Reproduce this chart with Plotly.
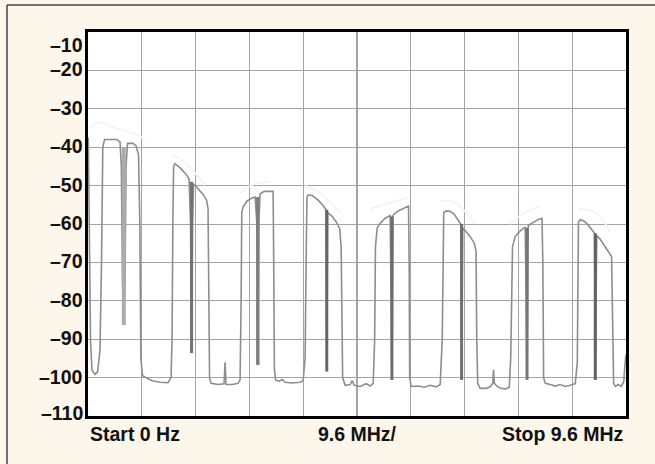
import plotly.graph_objects as go

# Spectrum analyser sweep, 0 to 9.6 MHz, level in dBm
freq_mhz = [
    0.005, 0.027, 0.045, 0.071, 0.125, 0.170, 0.214, 0.241, 0.264, 0.295,
    0.518, 0.571, 0.595, 0.616, 0.639, 0.661, 0.678, 0.705, 0.803, 0.857,
    0.902, 0.925, 0.943, 0.973, 1.053, 1.143, 1.286, 1.428, 1.482, 1.500,
    1.514, 1.527, 1.553, 1.660, 1.759, 1.803, 1.830, 1.848, 1.866, 1.884,
    1.964, 2.053, 2.116, 2.142, 2.157, 2.169, 2.196, 2.321, 2.428, 2.446,
    2.464, 2.571, 2.678, 2.714, 2.732, 2.744, 2.767, 2.839, 2.928, 2.982,
    3.014, 3.030, 3.046, 3.071, 3.142, 3.303, 3.314, 3.326, 3.348, 3.410,
    3.464, 3.517, 3.642, 3.785, 3.839, 3.874, 3.892, 3.907, 3.928, 4.000,
    4.106, 4.196, 4.245, 4.261, 4.277, 4.356, 4.428, 4.491, 4.517, 4.544,
    4.589, 4.678, 4.714, 4.750, 4.857, 4.964, 5.035, 5.089, 5.115, 5.129,
    5.160, 5.214, 5.303, 5.392, 5.423, 5.446, 5.535, 5.642, 5.719, 5.731,
    5.740, 5.767, 5.892, 5.999, 6.106, 6.213, 6.285, 6.321, 6.339, 6.348,
    6.392, 6.463, 6.535, 6.598, 6.651, 6.666, 6.687, 6.749, 6.820, 6.892,
    6.924, 6.937, 6.954, 6.999, 7.106, 7.177, 7.222, 7.236, 7.252, 7.302,
    7.356, 7.445, 7.517, 7.543, 7.561, 7.575, 7.624, 7.713, 7.802, 7.834,
    7.856, 7.945, 8.035, 8.101, 8.116, 8.130, 8.160, 8.249, 8.338, 8.427,
    8.517, 8.606, 8.695, 8.731, 8.743, 8.752, 8.784, 8.855, 8.927, 8.998,
    9.039, 9.052, 9.078, 9.141, 9.213, 9.284, 9.343, 9.361, 9.379, 9.409,
    9.463, 9.516, 9.561, 9.579, 9.600,
]
level_dbm = [
    -37.5, -60.0, -90.0, -98.0, -99.2, -98.5, -93.0, -70.0, -40.0, -38.0,
    -38.0, -38.6, -45.0, -75.0, -86.3, -75.0, -45.0, -39.0, -39.0, -39.6,
    -42.0, -60.0, -95.0, -99.5, -100.2, -100.8, -101.2, -101.3, -100.0, -90.0,
    -60.0, -45.0, -44.3, -45.6, -47.2, -48.3, -60.0, -93.6, -60.0, -49.5,
    -50.8, -52.3, -53.8, -56.0, -80.0, -100.0, -101.5, -101.8, -101.6, -96.0,
    -101.8, -101.8, -101.5, -100.6, -80.0, -57.0, -55.6, -54.0, -53.2, -53.0,
    -60.0, -96.7, -60.0, -52.2, -51.5, -51.5, -70.0, -98.0, -100.6, -101.0,
    -100.5, -101.2, -101.4, -101.2, -100.8, -95.0, -70.0, -53.0, -52.4, -52.6,
    -53.8, -55.2, -56.3, -98.4, -57.0, -58.0, -59.4, -61.2, -66.0, -100.0,
    -102.0, -101.8, -100.8, -102.0, -102.3, -101.6, -102.2, -101.5, -90.0, -66.0,
    -61.0, -59.8, -58.5, -57.8, -100.6, -57.6, -56.6, -55.8, -55.3, -70.0,
    -100.0, -102.3, -102.2, -102.5, -102.0, -102.4, -101.8, -90.0, -65.0, -57.0,
    -56.6, -56.7, -57.5, -58.8, -60.0, -100.6, -61.0, -62.0, -63.3, -65.0,
    -67.0, -90.0, -101.5, -102.8, -102.8, -102.4, -101.5, -98.0, -101.5, -102.3,
    -102.7, -103.0, -102.5, -95.0, -75.0, -66.0, -63.2, -61.8, -60.8, -100.6,
    -60.4, -59.5, -58.8, -58.5, -70.0, -100.0, -101.5, -101.8, -102.2, -101.8,
    -102.3, -102.0, -101.6, -96.0, -70.0, -59.5, -58.9, -59.3, -60.3, -61.5,
    -62.4, -100.6, -63.0, -64.0, -65.5, -67.2, -68.5, -85.0, -101.5, -102.3,
    -101.8, -102.3, -101.0, -97.0, -94.0,
]

# Carrier notches (deep nulls inside each channel)
notch_freq = [0.639, 1.848, 3.030, 4.261, 5.423, 6.666, 7.834, 9.052]
notch_top = [-40.0, -49.0, -53.0, -56.3, -58.0, -60.0, -61.0, -62.4]
notch_floor = [-86.3, -93.6, -96.7, -98.4, -100.6, -100.6, -100.6, -100.6]
notch_color = ["#ababab", "#727272", "#7e7e7e", "#666666",
               "#6c6c6c", "#707070", "#767676", "#626262"]
notch_width = [4.0, 3.0, 3.5, 3.0, 3.0, 3.0, 3.0, 3.0]

# Faint max-hold residue above the channel tops
hold_freq = [0.04, 0.21, 0.48, 0.84, 1.02, None,
             1.50, 1.73, 2.09, None,
             2.71, 2.98, 3.25, None,
             3.87, 4.14, 4.50, None,
             5.03, 5.39, 5.75, None,
             6.28, 6.55, 6.91, None,
             7.53, 7.80, 8.07, None,
             8.74, 9.05, 9.32]
hold_dbm = [-35.0, -33.5, -35.0, -36.5, -38.0, None,
            -42.0, -44.0, -50.0, None,
            -52.0, -49.5, -49.0, None,
            -50.0, -52.0, -57.0, None,
            -56.0, -54.5, -53.0, None,
            -54.0, -54.5, -60.0, None,
            -60.0, -57.0, -55.5, None,
            -56.0, -57.0, -62.0]

# Axis scale and labels
x_span = [0.0, 9.6]
x_div = 0.96
y_span = [-110, -10]
y_ticks = [-10, -20, -30, -40, -50, -60, -70, -80, -90, -100, -110]
y_tick_text = ["–10", "–20", "–30", "–40", "–50", "–60",
               "–70", "–80", "–90", "–100", "–110"]
x_labels = ["Start 0 Hz", "9.6 MHz/", "Stop 9.6 MHz"]
x_label_pos = [0.0, 4.8, 9.6]
x_label_anchor = ["left", "center", "right"]

FONT = "Liberation Sans, Arial, sans-serif"
CREAM = "#fdf6ea"
GRID = "#a4a4a4"

fig = go.Figure()

fig.add_trace(go.Scatter(
    x=hold_freq, y=hold_dbm, mode="lines",
    line=dict(color="#f4f4f4", width=2, shape="spline"),
    connectgaps=False, hoverinfo="skip", showlegend=False,
))

fig.add_trace(go.Scatter(
    x=freq_mhz, y=level_dbm, mode="lines",
    line=dict(color="#8e8e8e", width=1.6),
    showlegend=False,
))

for f, top, floor, col, w in zip(notch_freq, notch_top, notch_floor,
                                 notch_color, notch_width):
    fig.add_trace(go.Scatter(
        x=[f, f], y=[top, floor], mode="lines",
        line=dict(color=col, width=w),
        showlegend=False, hoverinfo="skip",
    ))

grid_x = [round(i * x_div, 4) for i in range(11)]

fig.update_xaxes(
    range=x_span, tickvals=grid_x, showticklabels=False,
    showgrid=True, gridcolor=GRID, gridwidth=1.3,
    showline=True, linecolor="black", linewidth=2.5, mirror=True,
    zeroline=False, ticks="",
)
fig.update_yaxes(
    range=y_span, tickvals=y_ticks, showticklabels=False,
    showgrid=True, gridcolor=GRID, gridwidth=1.3,
    showline=True, linecolor="black", linewidth=2.5, mirror=True,
    zeroline=False, ticks="",
)

label_font = dict(family=FONT, size=19.5, color="#111111")
annotations = []
for i, (v, t) in enumerate(zip(y_ticks, y_tick_text)):
    yanchor, yshift = "middle", 1
    if i == 0:
        yanchor, yshift = "top", 0
    elif i == len(y_ticks) - 1:
        yanchor, yshift = "middle", 3
    annotations.append(dict(
        x=0, xref="paper", y=v, yref="y", text=f"<b>{t}</b>", showarrow=False,
        xanchor="right", yanchor=yanchor, xshift=-3, yshift=yshift,
        font=label_font,
    ))
for t, p, a in zip(x_labels, x_label_pos, x_label_anchor):
    annotations.append(dict(
        x=p, xref="x", y=0, yref="paper", text=f"<b>{t}</b>", showarrow=False,
        xanchor=a, yanchor="top", yshift=-5,
        font=label_font,
    ))

fig.update_layout(
    width=655, height=464,
    margin=dict(l=88, r=29, t=32, b=48),
    paper_bgcolor=CREAM, plot_bgcolor="white",
    annotations=annotations,
    shapes=[
        # doubled centre graticule line
        dict(type="line", xref="x", yref="paper",
             x0=sum(x_span) / 2, x1=sum(x_span) / 2, y0=0, y1=1,
             line=dict(color=GRID, width=2), layer="below"),
        # outer frame (top and left edges)
        dict(type="line", xref="paper", yref="paper",
             x0=-0.1506, x1=1.2, y0=1.0703, y1=1.0703,
             line=dict(color="#444444", width=1.5)),
        dict(type="line", xref="paper", yref="paper",
             x0=-0.1506, x1=-0.1506, y0=-0.2, y1=1.0703,
             line=dict(color="#444444", width=1.5)),
    ],
)

fig.write_html("out.html")
